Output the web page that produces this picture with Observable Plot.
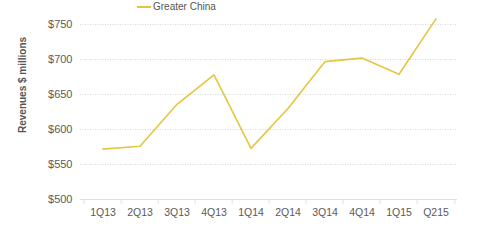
<!DOCTYPE html>
<html>
<head>
<meta charset="utf-8">
<script src="https://cdn.jsdelivr.net/npm/d3@7"></script>
<script src="https://cdn.jsdelivr.net/npm/@observablehq/plot@0.6"></script>
<style>
  body { margin: 0; background: #fff; }
  #wrap { position: relative; width: 480px; height: 251px; font-family: "Liberation Sans", Arial, sans-serif; }
  #legend { position: absolute; left: 137px; top: 1px; font-size: 10px; color: #555; display: flex; align-items: center; }
  #legend .sw { width: 14px; height: 0; border-top: 2px solid #e5c640; margin-right: 2px; }
  #chart { position: absolute; left: 0; top: 0; }
</style>
</head>
<body>
<div id="wrap">
  <div id="chart"></div>
  <div id="legend"><span class="sw"></span><span>Greater China</span></div>
</div>
<script>
const quarters = ["1Q13","2Q13","3Q13","4Q13","1Q14","2Q14","3Q14","4Q14","1Q15","Q215"];
const revenues = [572, 576, 636, 678, 573, 630, 697, 702, 679, 758];
const yTicks = [500, 550, 600, 650, 700, 750];
const seriesName = "Greater China";
const yLabel = "Revenues $ millions";

const data = quarters.map((q, i) => ({quarter: q, value: revenues[i], series: seriesName}));
const bw = (457 - 80) / quarters.length;

const chart = Plot.plot({
  width: 480,
  height: 251,
  marginLeft: 80,
  marginRight: 23,
  marginTop: 24,
  marginBottom: 52,
  style: {fontFamily: "Liberation Sans, Arial, sans-serif", background: "transparent"},
  x: {type: "band", domain: quarters, padding: 0, label: null},
  y: {domain: [500, 750], label: null},
  marks: [
    Plot.ruleY(yTicks.filter(d => d > 500), {stroke: "#d6d6d6", strokeDasharray: "1,1.5", strokeWidth: 1}),
    Plot.ruleY([500], {stroke: "#e0e0e0", strokeWidth: 1}),
    Plot.ruleX(quarters, {x: d => d, dx: -bw / 2, y1: 500, y2: 493, stroke: "#e0e0e0"}),
    Plot.ruleX([quarters[quarters.length - 1]], {x: d => d, dx: bw / 2, y1: 500, y2: 493, stroke: "#e0e0e0"}),
    Plot.axisY({ticks: yTicks, tickSize: 0, tickPadding: 8, tickFormat: d => "$" + d, fontSize: 11, color: "#5a5a5a", label: null}),
    Plot.axisX({tickSize: 0, tickPadding: 9, fontSize: 10.5, color: "#5a5a5a", label: null}),
    Plot.line(data, {x: "quarter", y: "value", stroke: "#e5c640", strokeWidth: 1.6}),
    Plot.text([yLabel], {frameAnchor: "left", text: d => d, rotate: -90, dx: -58, dy: 21, fontSize: 10, fontWeight: "bold", fill: "#555"})
  ]
});
document.getElementById("chart").appendChild(chart);
</script>
</body>
</html>
